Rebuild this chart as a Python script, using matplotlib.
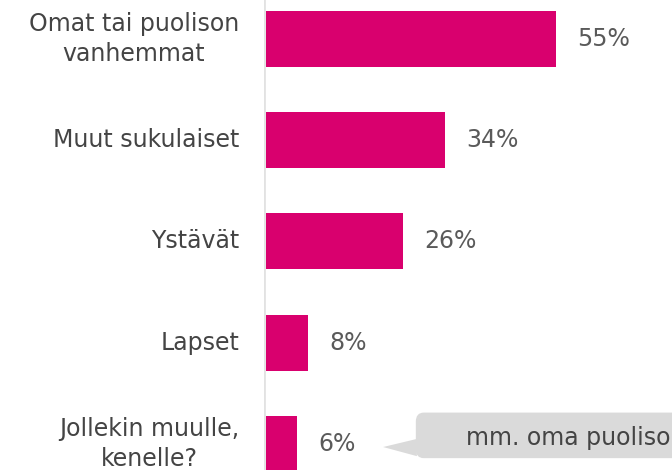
import matplotlib.pyplot as plt
from matplotlib.patches import FancyBboxPatch, Polygon

categories = ["Omat tai puolison\nvanhemmat", "Muut sukulaiset", "Ystävät", "Lapset",
              "Jollekin muulle,\nkenelle?"]
values = [55, 34, 26, 8, 6]
note = "mm. oma puoliso"

bar_color = "#d9006e"
label_color = "#444444"
value_color = "#5a5a5a"

plt.rcParams['font.family'] = ['DejaVu Sans']

fig = plt.figure(figsize=(6.72, 4.70), dpi=100)
ax = fig.add_axes([264 / 672, 0, 408 / 672, 1])

y = list(range(len(categories)))
ax.barh(y, values, height=0.553, color=bar_color, left=0.3)

# percentages to the right of each bar
for yi, v in zip(y, values):
    ax.text(v + 4.4, yi, f"{v}%", va="center", ha="left", fontsize=17, color=value_color)

# category names to the left of the axis line
for yi, c in zip(y, categories):
    ax.text(-4.7, yi, c, va="center", ha="right", multialignment="center", fontsize=17,
            color=label_color, linespacing=1.35, clip_on=False)

ax.set_xlim(0, 77.4)
ax.set_ylim(4.257, -0.385)
ax.axvline(0, color="#e2e2e2", lw=2)
for s in ax.spines.values():
    s.set_visible(False)
ax.set_xticks([])
ax.set_yticks([])

# speech bubble next to the last bar
bubble = FancyBboxPatch((28.8, 3.69), 60, 0.45, boxstyle="round,pad=0,rounding_size=1.5",
                        facecolor="#dadada", edgecolor="none", mutation_aspect=0.06)
ax.add_patch(bubble)
ax.add_patch(Polygon([(22.6, 4.03), (29.0, 3.95), (29.0, 4.12)], closed=True,
                     facecolor="#dadada", edgecolor="none"))
ax.text(38.4, 3.94, note, va="center", ha="left", fontsize=17, color=label_color)

fig.savefig("out.png", dpi=100)
